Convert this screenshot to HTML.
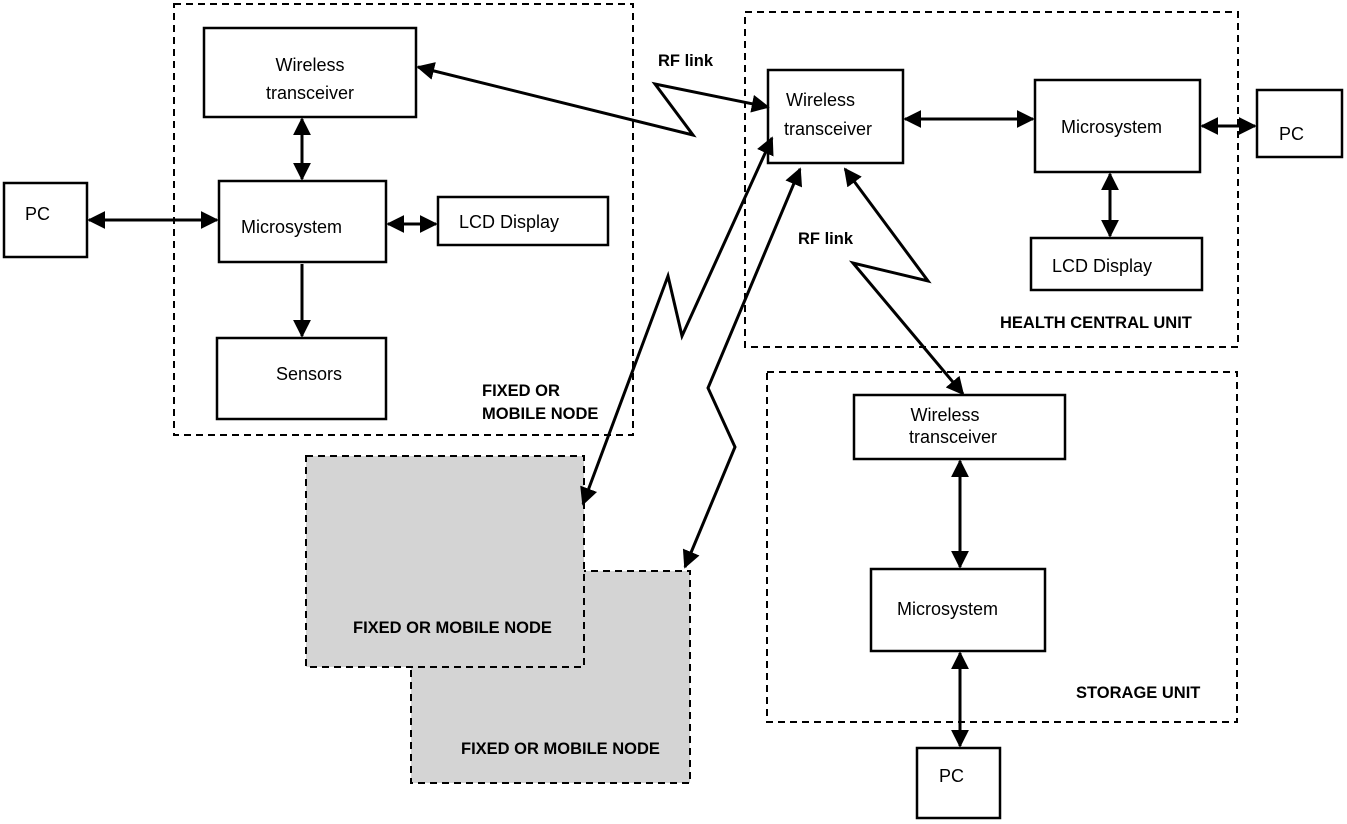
<!DOCTYPE html>
<html><head><meta charset="utf-8"><style>
html,body{margin:0;padding:0;background:#fff;}
svg{display:block;}
text{font-family:"Liberation Sans",sans-serif;font-size:18px;fill:#000;}
.b{font-weight:bold;font-size:16.5px;}
</style></head><body>
<svg width="1347" height="824" viewBox="0 0 1347 824" xmlns="http://www.w3.org/2000/svg">
<defs>
<marker id="a" viewBox="0 0 10 10" refX="9" refY="5" markerWidth="6" markerHeight="6" markerUnits="strokeWidth" orient="auto-start-reverse">
<path d="M0,0 L10,5 L0,10 z" fill="#000"/></marker>
</defs>
<g fill="none" stroke="#000" stroke-width="2" stroke-dasharray="7,5">
<rect x="174" y="4" width="459" height="431"/>
<rect x="745" y="12" width="493" height="335"/>
<rect x="767" y="372" width="470" height="350"/>
<rect x="411" y="571" width="279" height="212" fill="#d4d4d4"/>
<rect x="306" y="456" width="278" height="211" fill="#d4d4d4"/>
</g>
<g fill="#fff" stroke="#000" stroke-width="2.5">
<rect x="204" y="28" width="212" height="89"/>
<rect x="219" y="181" width="167" height="81"/>
<rect x="438" y="197" width="170" height="48"/>
<rect x="217" y="338" width="169" height="81"/>
<rect x="4" y="183" width="83" height="74"/>
<rect x="768" y="70" width="135" height="93"/>
<rect x="1035" y="80" width="165" height="92"/>
<rect x="1257" y="90" width="85" height="67"/>
<rect x="1031" y="238" width="171" height="52"/>
<rect x="854" y="395" width="211" height="64"/>
<rect x="871" y="569" width="174" height="82"/>
<rect x="917" y="748" width="83" height="70"/>
</g>
<g fill="none" stroke="#000" stroke-width="3" marker-start="url(#a)" marker-end="url(#a)">
<line x1="302" y1="119" x2="302" y2="179"/>
<line x1="89" y1="220" x2="217" y2="220"/>
<line x1="388" y1="224" x2="436" y2="224"/>
<line x1="905" y1="119" x2="1033" y2="119"/>
<line x1="1202" y1="126" x2="1255" y2="126"/>
<line x1="1110" y1="174" x2="1110" y2="236"/>
<line x1="960" y1="461" x2="960" y2="567"/>
<line x1="960" y1="653" x2="960" y2="746"/>
<polyline points="418,67 693,135 655,84 768,107"/>
<polyline points="583,504 668,276 682,336 772,138"/>
<polyline points="685,567 735,447 708,388 800,169"/>
<polyline points="845,169 928,281 853,263 963,394"/>
</g>
<line x1="302" y1="264" x2="302" y2="336" stroke="#000" stroke-width="3" marker-end="url(#a)"/>
<text x="310" y="71" text-anchor="middle">Wireless</text>
<text x="310" y="99" text-anchor="middle">transceiver</text>
<text x="241" y="233">Microsystem</text>
<text x="459" y="228">LCD Display</text>
<text x="276" y="380">Sensors</text>
<text x="25" y="220">PC</text>
<text x="786" y="106">Wireless</text>
<text x="784" y="135">transceiver</text>
<text x="1061" y="133">Microsystem</text>
<text x="1279" y="140">PC</text>
<text x="1052" y="272">LCD Display</text>
<text x="945" y="421" text-anchor="middle">Wireless</text>
<text x="953" y="443" text-anchor="middle">transceiver</text>
<text x="897" y="615">Microsystem</text>
<text x="939" y="782">PC</text>
<text class="b" x="658" y="66">RF link</text>
<text class="b" x="798" y="244">RF link</text>
<text class="b" x="482" y="396">FIXED OR</text>
<text class="b" x="482" y="419">MOBILE NODE</text>
<text class="b" x="1000" y="328">HEALTH CENTRAL UNIT</text>
<text class="b" x="1076" y="698">STORAGE UNIT</text>
<text class="b" x="353" y="633">FIXED OR MOBILE NODE</text>
<text class="b" x="461" y="754">FIXED OR MOBILE NODE</text>
</svg>
</body></html>
